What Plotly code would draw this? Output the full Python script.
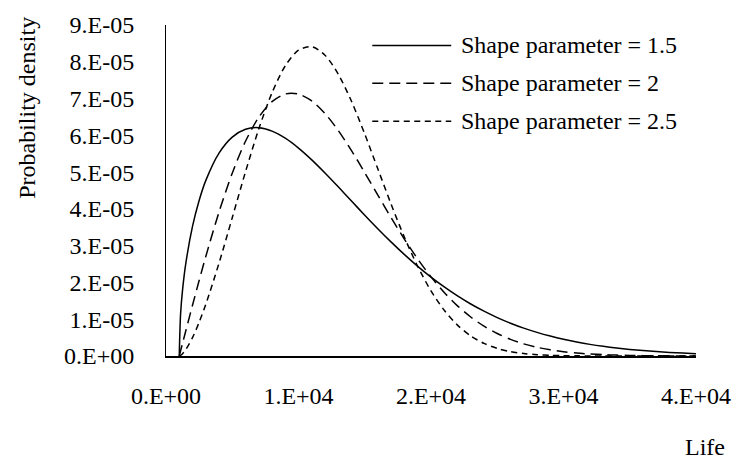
import plotly.graph_objects as go

# ---- data ----
life = [1000, 1100, 1250, 1500, 2000, 2500, 3000, 4000, 5000, 6000, 7000, 8000, 9000,
        10000, 11000, 12000, 13000, 14000, 15000, 16000, 17000, 18000, 19000, 20000,
        21000, 22000, 23000, 24000, 25000, 26000, 27000, 28000, 29000, 30000, 31000,
        32000, 33000, 34000, 35000, 36000, 37000, 38000, 39000, 40000]

shape_1_5 = [0.0, 1.140e-5, 1.799e-5, 2.530e-5, 3.523e-5, 4.228e-5, 4.768e-5, 5.516e-5,
             5.953e-5, 6.166e-5, 6.207e-5, 6.115e-5, 5.922e-5, 5.654e-5, 5.333e-5,
             4.976e-5, 4.599e-5, 4.213e-5, 3.829e-5, 3.455e-5, 3.096e-5, 2.756e-5,
             2.438e-5, 2.145e-5, 1.877e-5, 1.633e-5, 1.414e-5, 1.218e-5, 1.045e-5,
             0.892e-5, 0.758e-5, 0.642e-5, 0.541e-5, 0.454e-5, 0.380e-5, 0.316e-5,
             0.262e-5, 0.217e-5, 0.179e-5, 0.147e-5, 0.120e-5, 0.098e-5, 0.079e-5, 0.064e-5]

shape_2 = [0.0, 0.139e-5, 0.347e-5, 0.693e-5, 1.379e-5, 2.051e-5, 2.702e-5, 3.914e-5,
           4.971e-5, 5.838e-5, 6.490e-5, 6.918e-5, 7.124e-5, 7.122e-5, 6.935e-5,
           6.594e-5, 6.131e-5, 5.584e-5, 4.985e-5, 4.367e-5, 3.756e-5, 3.173e-5,
           2.635e-5, 2.151e-5, 1.727e-5, 1.364e-5, 1.060e-5, 0.811e-5, 0.611e-5,
           0.453e-5, 0.330e-5, 0.237e-5, 0.168e-5, 0.117e-5, 0.080e-5, 0.054e-5,
           0.036e-5, 0.024e-5, 0.015e-5, 0.010e-5, 0.006e-5, 0.004e-5, 0.002e-5, 0.001e-5]

shape_2_5 = [0.0, 0.016e-5, 0.063e-5, 0.177e-5, 0.500e-5, 0.916e-5, 1.402e-5, 2.524e-5,
             3.760e-5, 5.009e-5, 6.172e-5, 7.157e-5, 7.889e-5, 8.314e-5, 8.408e-5,
             8.179e-5, 7.664e-5, 6.925e-5, 6.035e-5, 5.075e-5, 4.118e-5, 3.223e-5,
             2.433e-5, 1.771e-5, 1.242e-5, 0.839e-5, 0.546e-5, 0.342e-5, 0.206e-5,
             0.119e-5, 0.066e-5, 0.035e-5, 0.018e-5, 0.009e-5, 0.004e-5, 0.002e-5,
             0.001e-5, 0.0003e-5, 0.0001e-5, 0.0, 0.0, 0.0, 0.0, 0.0]

series_names = ["Shape parameter = 1.5", "Shape parameter = 2", "Shape parameter = 2.5"]
series_dash = ["solid", "11px,6px", "6px,4.5px"]

x_tickvals = [0, 10000, 20000, 30000, 40000]
x_ticktext = ["0.E+00", "1.E+04", "2.E+04", "3.E+04", "4.E+04"]
y_tickvals = [0, 1e-5, 2e-5, 3e-5, 4e-5, 5e-5, 6e-5, 7e-5, 8e-5, 9e-5]
y_ticktext = ["0.E+00", "1.E-05", "2.E-05", "3.E-05", "4.E-05", "5.E-05",
              "6.E-05", "7.E-05", "8.E-05", "9.E-05"]

FONT = "Liberation Serif"
W, H = 743, 463
ML, MR, MT, MB = 166, 40, 21, 107
PW, PH = W - ML - MR, H - MT - MB


def px_to_paper(px, py):
    return (px - ML) / PW, (H - MB - py) / PH


fig = go.Figure()
for ys, name, dash in zip([shape_1_5, shape_2, shape_2_5], series_names, series_dash):
    fig.add_trace(go.Scatter(x=life, y=ys, mode="lines", name=name, showlegend=False,
                             line=dict(color="black", width=1.5, dash=dash,
                                       shape="spline", smoothing=0.8)))

# legend drawn as line samples + text (long sample lines like the reference)
shapes = []
annotations = []
for i, (name, dash) in enumerate(zip(series_names, series_dash)):
    py = 41.7 + i * 38.3
    x0, y0 = px_to_paper(375, py)
    x1, _ = px_to_paper(455, py)
    shapes.append(dict(type="line", xref="paper", yref="paper", x0=x0, x1=x1, y0=y0, y1=y0,
                       line=dict(color="black", width=1.5, dash=dash)))
    tx, _ = px_to_paper(463, py)
    annotations.append(dict(xref="paper", yref="paper", x=tx, y=y0, xanchor="left",
                            yanchor="middle", showarrow=False, text=name,
                            font=dict(family=FONT, size=24, color="black")))

ax, ay = px_to_paper(25, 105)
annotations.append(dict(xref="paper", yref="paper", x=ax, y=ay, xanchor="center",
                        yanchor="middle", showarrow=False, text="Probability density",
                        textangle=-90, font=dict(family=FONT, size=24, color="black")))
lx, ly = px_to_paper(712, 463)
annotations.append(dict(xref="paper", yref="paper", x=lx, y=ly, xanchor="center",
                        yanchor="bottom", showarrow=False, text="Life",
                        font=dict(family=FONT, size=24, color="black")))

fig.update_layout(
    width=W, height=H,
    margin=dict(l=ML, r=MR, t=MT, b=MB, pad=0),
    paper_bgcolor="white", plot_bgcolor="white",
    font=dict(family=FONT, size=24, color="black"),
    shapes=shapes, annotations=annotations,
    showlegend=False,
)
fig.update_xaxes(range=[0, 40000], tickvals=x_tickvals, ticktext=x_ticktext,
                 showgrid=False, zeroline=False, showline=True, linecolor="black",
                 linewidth=1.5, ticks="", ticklabelstandoff=17,
                 tickfont=dict(family=FONT, size=24, color="black"))
fig.update_yaxes(range=[0, 9e-5], tickvals=y_tickvals, ticktext=y_ticktext,
                 showgrid=False, zeroline=False, showline=True, linecolor="black",
                 linewidth=1, ticks="", ticklabelstandoff=26,
                 tickfont=dict(family=FONT, size=24, color="black"))

fig.write_html("out.html")
